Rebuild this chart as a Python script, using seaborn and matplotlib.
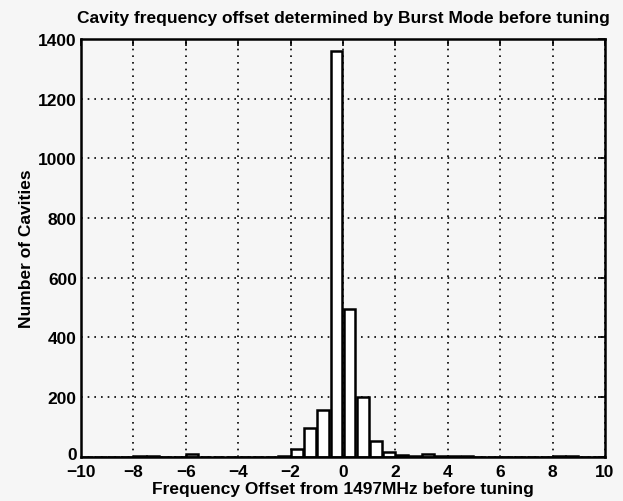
import matplotlib
matplotlib.use("Agg")
import matplotlib.pyplot as plt
import matplotlib.transforms as mtransforms
import seaborn as sns
import numpy as np
import pandas as pd

# bin centres every 0.5 MHz from -10 to 10 (40 bins)
bin_centers = np.arange(-9.75, 10, 0.5)
counts = [0, 0, 0, 0,
          2, 2, 1, 1, 10, 1, 0, 0, 0, 1, 1, 4,
          27, 95, 157, 1360, 495, 200, 52, 15,
          5, 3, 8, 3, 2, 4, 1, 1, 0, 1, 1, 1,
          2, 4, 1, 0]
x_ticks = [-10, -8, -6, -4, -2, 0, 2, 4, 6, 8, 10]
y_ticks = [0, 200, 400, 600, 800, 1000, 1200, 1400]

df = pd.DataFrame({"offset": bin_centers, "count": counts})

sns.set_style("white")
plt.rcParams["font.family"] = ["Liberation Sans", "DejaVu Sans"]
plt.rcParams["text.color"] = "black"
plt.rcParams["axes.labelcolor"] = "black"
plt.rcParams["xtick.color"] = "black"
plt.rcParams["ytick.color"] = "black"
bg = "#f6f6f6"

fig = plt.figure(figsize=(6.23, 5.02), dpi=100, facecolor=bg)
ax = fig.add_axes([0.130, 0.088, 0.841, 0.832], facecolor=bg)

sns.histplot(data=df, x="offset", weights="count", binwidth=0.5,
             binrange=(-10, 10), shrink=0.9,
             color="white", edgecolor="black", linewidth=1.8, alpha=1,
             ax=ax)

ax.set_xlim(-10, 10)
ax.set_ylim(0, 1400)
ax.set_xticks(x_ticks)
ax.set_yticks(y_ticks)
ax.set_xticklabels([str(t).replace("-", "\u2212") for t in x_ticks])
ax.grid(True, linestyle=(0, (1, 3)), color="black", linewidth=1.2)
ax.set_axisbelow(True)
ax.tick_params(direction="in", length=5, width=1.2, top=True, right=True,
               labelsize=12.5, colors="black")
ax.tick_params(axis="x", pad=5)
ax.tick_params(axis="y", pad=3)
for lab in ax.get_xticklabels() + ax.get_yticklabels():
    lab.set_fontweight("bold")

# nudge the "0" on the y axis up a little so it clears the "-10" below it
lab0 = ax.get_yticklabels()[0]
lab0.set_transform(lab0.get_transform() +
                   mtransforms.ScaledTranslation(0, 3 / 72, fig.dpi_scale_trans))

for s in ax.spines.values():
    s.set_visible(True)
    s.set_linewidth(1.8)
    s.set_color("black")

ax.set_title("Cavity frequency offset determined by Burst Mode before tuning",
             fontsize=12.5, fontweight="bold", pad=12)
ax.set_xlabel("Frequency Offset from 1497MHz before tuning", fontsize=12.5,
              fontweight="bold", labelpad=1.5)
ax.set_ylabel("Number of Cavities", fontsize=12.5, fontweight="bold",
              labelpad=3)

fig.savefig("out.png", dpi=100, facecolor=bg)
